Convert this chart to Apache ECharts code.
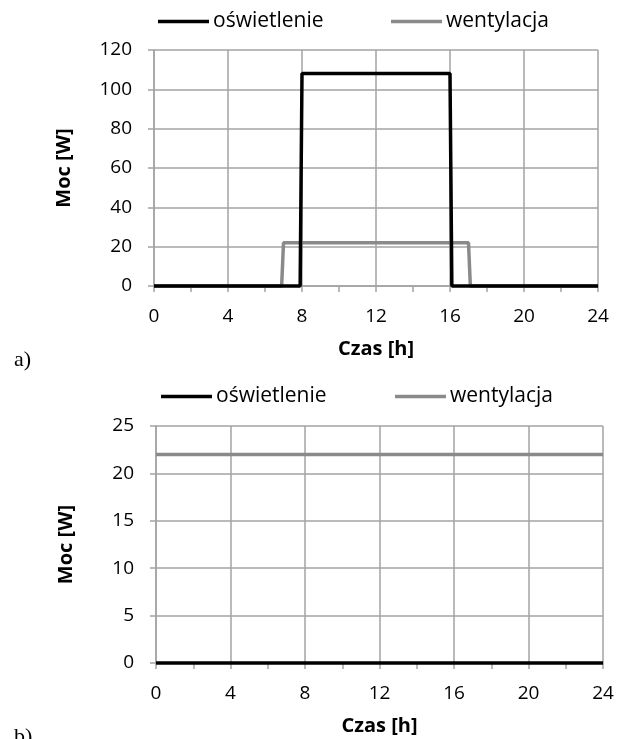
<!DOCTYPE html>
<html>
<head>
<meta charset="utf-8">
<script src="https://cdn.jsdelivr.net/npm/echarts@6/dist/echarts.min.js"></script>
<style>
  html, body { margin: 0; padding: 0; background: #fff; }
  #chart { width: 627px; height: 739px; }
</style>
</head>
<body>
<div id="chart"></div>
<script>
// chart a) - oświetlenie + wentylacja, day profile
const hoursLightA = [0, 7.9, 8, 16, 16.1, 24];
const powerLightA = [0, 0, 108, 108, 0, 0];
const hoursVentA = [0, 6.9, 7, 17, 17.1, 24];
const powerVentA = [0, 0, 22, 22, 0, 0];

// chart b) - flat profile
const hoursLightB = [0, 24];
const powerLightB = [0, 0];
const hoursVentB = [0, 24];
const powerVentB = [22, 22];

const xTicks = [0, 4, 8, 12, 16, 20, 24];
const yMaxA = 120, yStepA = 20;
const yMaxB = 25, yStepB = 5;

const FONT = '"Open Sans", Lato, sans-serif';
const GRID_COLOR = '#a3a3a3';
const BLACK = '#000000';
const GRAY = '#8a8a8a';

function pairs(xs, ys) {
  return xs.map((x, i) => [x, ys[i]]);
}

function xAxisFor(gridIndex) {
  return {
    type: 'value',
    gridIndex: gridIndex,
    min: xTicks[0],
    max: xTicks[xTicks.length - 1],
    interval: xTicks[1] - xTicks[0],
    name: 'Czas [h]',
    nameLocation: 'middle',
    nameGap: 53,
    nameTextStyle: { fontFamily: FONT, fontSize: 20, fontWeight: 'bold', color: '#000' },
    axisLine: { show: true, lineStyle: { color: GRID_COLOR, width: 1.5 } },
    axisTick: { show: true, length: 6, lineStyle: { color: GRID_COLOR, width: 1.5 } },
    minorTick: { show: true, splitNumber: 2, length: 6, lineStyle: { color: GRID_COLOR, width: 1.5 } },
    splitLine: { show: true, lineStyle: { color: GRID_COLOR, width: 1.5 } },
    axisLabel: { fontFamily: FONT, fontSize: 19, color: '#000', margin: 21 },
  };
}

function yAxisFor(gridIndex, max, step) {
  return {
    type: 'value',
    gridIndex: gridIndex,
    min: 0,
    max: max,
    interval: step,
    name: 'Moc [W]',
    nameLocation: 'middle',
    nameGap: 80,
    nameTextStyle: { fontFamily: FONT, fontSize: 20, fontWeight: 'bold', color: '#000' },
    axisLine: { show: true, lineStyle: { color: GRID_COLOR, width: 1.5 } },
    axisTick: { show: true, length: 6, lineStyle: { color: GRID_COLOR, width: 1.5 } },
    splitLine: { show: true, lineStyle: { color: GRID_COLOR, width: 1.5 } },
    axisLabel: { fontFamily: FONT, fontSize: 19, color: '#000', margin: 22 },
  };
}

function lineSeries(name, color, gridIndex, data) {
  return {
    name: name,
    type: 'line',
    xAxisIndex: gridIndex,
    yAxisIndex: gridIndex,
    data: data,
    symbol: 'none',
    clip: false,
    animation: false,
    lineStyle: { color: color, width: 3.5 },
    itemStyle: { color: color },
  };
}

function legendAt(name, left, top) {
  return {
    data: [name],
    left: left,
    top: top,
    icon: 'rect',
    itemWidth: 51,
    itemHeight: 3.5,
    itemGap: 0,
    selectedMode: false,
    textStyle: { fontFamily: FONT, fontSize: 21, color: '#000', padding: [0, 0, 0, -1] },
  };
}

const chart = echarts.init(document.getElementById('chart'), null, { renderer: 'canvas' });

chart.setOption({
  backgroundColor: '#ffffff',
  animation: false,
  grid: [
    { left: 154, top: 50, width: 444, height: 236 },
    { left: 156, top: 426, width: 447, height: 237 },
  ],
  xAxis: [xAxisFor(0), xAxisFor(1)],
  yAxis: [yAxisFor(0, yMaxA, yStepA), yAxisFor(1, yMaxB, yStepB)],
  legend: [
    legendAt('oświetlenie', 153, 6),
    legendAt('wentylacja', 386, 6),
    legendAt('oświetlenie', 156, 381),
    legendAt('wentylacja', 390, 381),
  ],
  graphic: [
    { type: 'text', left: 14, top: 349, style: { text: 'a)', font: '22px "Liberation Serif", serif', fill: '#000' } },
    { type: 'text', left: 14, top: 726, style: { text: 'b)', font: '22px "Liberation Serif", serif', fill: '#000' } },
  ],
  series: [
    lineSeries('wentylacja', GRAY, 0, pairs(hoursVentA, powerVentA)),
    lineSeries('oświetlenie', BLACK, 0, pairs(hoursLightA, powerLightA)),
    lineSeries('wentylacja', GRAY, 1, pairs(hoursVentB, powerVentB)),
    lineSeries('oświetlenie', BLACK, 1, pairs(hoursLightB, powerLightB)),
  ],
});
</script>
</body>
</html>
